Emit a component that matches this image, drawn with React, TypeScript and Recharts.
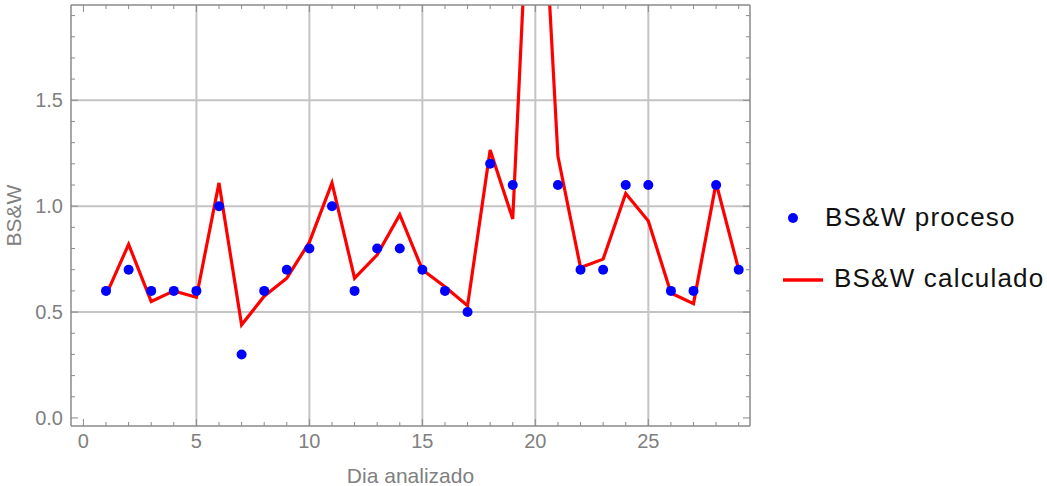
import { ComposedChart, Line, Scatter, XAxis, YAxis, CartesianGrid, Legend } from 'recharts';

// days analysed
const days = [1, 2, 3, 4, 5, 6, 7, 8, 9, 10, 11, 12, 13, 14, 15, 16, 17, 18, 19, 20, 21, 22, 23, 24, 25, 26, 27, 28, 29];
// measured BS&W (day 20 point is off the chart)
const proceso = [0.6, 0.7, 0.6, 0.6, 0.6, 1.0, 0.3, 0.6, 0.7, 0.8, 1.0, 0.6, 0.8, 0.8, 0.7, 0.6, 0.5, 1.2, 1.1, null, 1.1, 0.7, 0.7, 1.1, 1.1, 0.6, 0.6, 1.1, 0.7];
// calculated BS&W
const calculado = [0.58, 0.82, 0.55, 0.6, 0.57, 1.11, 0.44, 0.575, 0.66, 0.83, 1.11, 0.66, 0.77, 0.96, 0.7, 0.62, 0.53, 1.265, 0.94, 3.2, 1.235, 0.71, 0.75, 1.06, 0.93, 0.59, 0.54, 1.11, 0.7];

const xTicks = [0, 1, 2, 3, 4, 5, 6, 7, 8, 9, 10, 11, 12, 13, 14, 15, 16, 17, 18, 19, 20, 21, 22, 23, 24, 25, 26, 27, 28, 29];
const xGrid = [5, 10, 15, 20, 25];
const yTicks = [0, 0.1, 0.2, 0.3, 0.4, 0.5, 0.6, 0.7, 0.8, 0.9, 1.0, 1.1, 1.2, 1.3, 1.4, 1.5, 1.6, 1.7, 1.8, 1.9];
const yGrid = [0.5, 1.0, 1.5];

const rows = days.map((d, i) => ({ day: d, calculado: calculado[i] }));
const procesoRows = days
  .map((d, i) => ({ day: d, proceso: proceso[i] }))
  .filter((r) => r.proceso !== null);

const X_DOMAIN = [-0.55, 29.5];
const Y_DOMAIN = [-0.038, 1.95];

const FONT = "'Liberation Sans', Arial, sans-serif";
const AXIS_GRAY = '#8a8a8a';
const LABEL_GRAY = '#808080';

const isMajorX = (v: number) => v % 5 === 0;
const isMajorY = (v: number) => Math.abs(v * 2 - Math.round(v * 2)) < 1e-6;

// ticks point inward, major ticks longer
const BottomTick = (p: any) => {
  const v = p.payload.value;
  const major = isMajorX(v);
  return (
    <g>
      <line x1={p.x} x2={p.x} y1={p.y} y2={p.y - (major ? 7 : 4)} stroke={AXIS_GRAY} strokeWidth={1} />
      {major && (
        <text x={p.x} y={p.y + 22} textAnchor="middle" fontFamily={FONT} fontSize={20} fill={LABEL_GRAY}>
          {v}
        </text>
      )}
    </g>
  );
};

const TopTick = (p: any) => {
  const major = isMajorX(p.payload.value);
  return <line x1={p.x} x2={p.x} y1={p.y} y2={p.y + (major ? 7 : 4)} stroke={AXIS_GRAY} strokeWidth={1} />;
};

const LeftTick = (p: any) => {
  const v = p.payload.value;
  const major = isMajorY(v);
  return (
    <g>
      <line x1={p.x} x2={p.x + (major ? 7 : 4)} y1={p.y} y2={p.y} stroke={AXIS_GRAY} strokeWidth={1} />
      {major && (
        <text x={p.x - 8} y={p.y + 7} textAnchor="end" fontFamily={FONT} fontSize={20} fill={LABEL_GRAY}>
          {v.toFixed(1)}
        </text>
      )}
    </g>
  );
};

const RightTick = (p: any) => {
  const major = isMajorY(p.payload.value);
  return <line x1={p.x} x2={p.x - (major ? 7 : 4)} y1={p.y} y2={p.y} stroke={AXIS_GRAY} strokeWidth={1} />;
};

const renderLegend = () => (
  <svg width={277} height={110}>
    <circle cx={23} cy={28} r={5} fill="#0000ff" />
    <text x={55} y={36} fontFamily={FONT} fontSize={26} letterSpacing={1.2} fill="#111">
      BS&amp;W proceso
    </text>
    <line x1={13} x2={53} y1={90} y2={90} stroke="#ff0000" strokeWidth={3.5} />
    <text x={64} y={97} fontFamily={FONT} fontSize={26} letterSpacing={1.2} fill="#111">
      BS&amp;W calculado
    </text>
  </svg>
);

export default function App() {
  return (
    <div style={{ position: 'absolute', left: 0, top: 0 }}>
      <ComposedChart width={1047} height={486} data={rows} margin={{ top: 4, right: 296, bottom: 20, left: 11 }}>
        <CartesianGrid verticalValues={xGrid} horizontalValues={yGrid} stroke="#c4c4c4" strokeWidth={2} />
        <XAxis
          dataKey="day"
          type="number"
          domain={X_DOMAIN}
          ticks={xTicks}
          interval={0}
          allowDataOverflow
          height={40}
          tickLine={false}
          tickSize={0}
          tickMargin={0}
          tick={BottomTick}
          axisLine={{ stroke: AXIS_GRAY, strokeWidth: 1.5 }}
          label={{ value: 'Dia analizado', position: 'bottom', offset: 2, fontFamily: FONT, fontSize: 21, fill: LABEL_GRAY }}
        />
        <XAxis
          xAxisId="top"
          orientation="top"
          dataKey="day"
          type="number"
          domain={X_DOMAIN}
          ticks={xTicks}
          interval={0}
          allowDataOverflow
          height={1}
          tickLine={false}
          tickSize={0}
          tickMargin={0}
          tick={TopTick}
          axisLine={{ stroke: AXIS_GRAY, strokeWidth: 1.5 }}
        />
        <YAxis
          type="number"
          domain={Y_DOMAIN}
          ticks={yTicks}
          interval={0}
          allowDataOverflow
          width={60}
          tickLine={false}
          tickSize={0}
          tickMargin={0}
          tick={LeftTick}
          axisLine={{ stroke: AXIS_GRAY, strokeWidth: 1.5 }}
          label={{
            content: (props: any) => {
              const vb = props.viewBox;
              const cy = vb.y + vb.height / 2;
              return (
                <text x={21} y={cy} transform={`rotate(-90 21 ${cy})`} textAnchor="middle" fontFamily={FONT} fontSize={21} fill={LABEL_GRAY}>
                  BS&amp;W
                </text>
              );
            },
          }}
        />
        <YAxis
          yAxisId="right"
          orientation="right"
          type="number"
          domain={Y_DOMAIN}
          ticks={yTicks}
          interval={0}
          allowDataOverflow
          width={1}
          tickLine={false}
          tickSize={0}
          tickMargin={0}
          tick={RightTick}
          axisLine={{ stroke: AXIS_GRAY, strokeWidth: 1.5 }}
        />
        <Scatter
          data={procesoRows}
          dataKey="proceso"
          isAnimationActive={false}
          shape={(p: any) => <circle cx={p.cx} cy={p.cy} r={5} fill="#0000ff" />}
        />
        <Line type="linear" dataKey="calculado" stroke="#ff0000" strokeWidth={3.2} dot={false} isAnimationActive={false} />
        {/* invisible series so the top/right frame axes get drawn */}
        <Line
          xAxisId="top"
          yAxisId="right"
          type="linear"
          dataKey="calculado"
          stroke="none"
          dot={false}
          activeDot={false}
          legendType="none"
          isAnimationActive={false}
        />
        <Legend
          layout="vertical"
          align="center"
          verticalAlign="middle"
          content={renderLegend}
          wrapperStyle={{ left: 770, top: 190, width: 277, height: 110 }}
        />
      </ComposedChart>
    </div>
  );
}
